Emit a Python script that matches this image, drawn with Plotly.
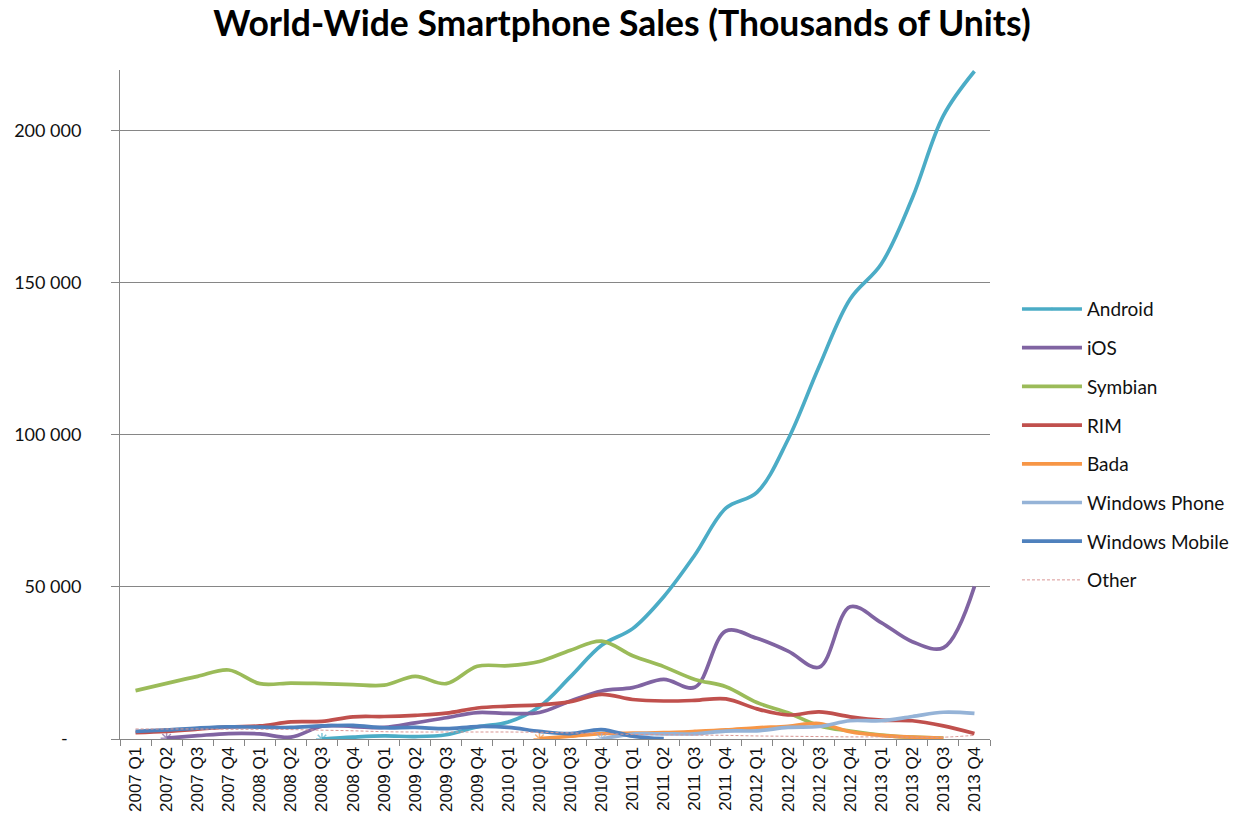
import plotly.graph_objects as go

quarters = ["2007 Q1", "2007 Q2", "2007 Q3", "2007 Q4",
            "2008 Q1", "2008 Q2", "2008 Q3", "2008 Q4",
            "2009 Q1", "2009 Q2", "2009 Q3", "2009 Q4",
            "2010 Q1", "2010 Q2", "2010 Q3", "2010 Q4",
            "2011 Q1", "2011 Q2", "2011 Q3", "2011 Q4",
            "2012 Q1", "2012 Q2", "2012 Q3", "2012 Q4",
            "2013 Q1", "2013 Q2", "2013 Q3", "2013 Q4"]

android = [None, None, None, None, None, None, 0, 600, 1000, 800, 1400, 4000,
           5600, 10600, 20500, 30800, 36300, 46800, 60500, 75900,
           81100, 98500, 122500, 144700, 156200, 177900, 205000, 219600]
ios = [None, 270, 1100, 1800, 1700, 600, 4200, 4100, 3800, 5300, 7000, 8700,
       8400, 8700, 12500, 15800, 16900, 19600, 17000, 35500,
       33100, 28900, 23600, 43500, 38300, 32000, 30000, 50200]
symbian = [15900, 18300, 20600, 22700, 18200, 18400, 18200, 17900, 17700, 20600, 18200, 23900,
           24100, 25500, 29200, 32200, 27400, 23800, 19600, 17200,
           12000, 8600, 4400, 2600, 1300, 600, 300, None]
rim = [2100, 2500, 3200, 4000, 4300, 5600, 5800, 7300, 7400, 7800, 8500, 10200,
       10800, 11200, 12300, 14700, 13000, 12500, 12700, 13200,
       9900, 7900, 8900, 7300, 6200, 6000, 4300, 1800]
bada = [None, None, None, None, None, None, None, None, None, None, None, None,
        None, 100, 900, 1800, 1900, 2100, 2500, 3000,
        3700, 4200, 5100, 2400, 1200, 600, 200, None]
windows_phone = [None, None, None, None, None, None, None, None, None, None, None, None,
                 None, None, None, 0, 1600, 1700, 1700, 2600,
                 2700, 3800, 4100, 6000, 6000, 7400, 8800, 8400]
windows_mobile = [2500, 3000, 3600, 4000, 3900, 3800, 4300, 4500, 3700, 3800, 3400, 4100,
                  3800, 2500, 1800, 3100, 900, 100, None, None,
                  None, None, None, None, None, None, None, None]
other = [3300, 3300, 3300, 3200, 3200, 3100, 2900, 2700, 2400, 2300, 2300, 2300,
         2300, 2200, 2000, 1800, 1500, 1400, 1300, 1200,
         1000, 900, 800, 700, 700, 600, 600, 1200]

series = [
    ("Android", android, "#4BACC6"),
    ("iOS", ios, "#8064A2"),
    ("Symbian", symbian, "#9BBB59"),
    ("RIM", rim, "#C0504D"),
    ("Bada", bada, "#F79646"),
    ("Windows Phone", windows_phone, "#95B3D7"),
    ("Windows Mobile", windows_mobile, "#4F81BD"),
]

y_ticks = [0, 50000, 100000, 150000, 200000]
y_ticktext = ["-\u00a0\u00a0\u00a0", "50 000", "100 000", "150 000", "200 000"]

fig = go.Figure()
for name, vals, color in series:
    first = next(i for i, v in enumerate(vals) if v is not None)
    sizes = [10 if (i == first and first > 0) else 0 for i in range(len(vals))]
    fig.add_trace(go.Scatter(
        x=quarters, y=vals, name=name, mode="lines+markers",
        line=dict(color=color, width=3.7, shape="spline", smoothing=1),
        marker=dict(symbol="asterisk-open", size=sizes, color=color,
                    line=dict(color=color, width=1.5)),
        legendgroup=name,
    ))
fig.add_trace(go.Scatter(
    x=quarters, y=other, name="Other", mode="lines",
    line=dict(color="#D99694", width=1, dash="3px,2px", shape="spline", smoothing=1),
    legendgroup="Other",
))

fig.update_layout(
    width=1234, height=829,
    paper_bgcolor="white", plot_bgcolor="white",
    margin=dict(l=120, r=244, t=70, b=90, autoexpand=False),
    title=dict(text="<b>World-Wide Smartphone Sales (Thousands of Units)</b>",
               x=0.504, xanchor="center", y=0.972, yanchor="middle",
               font=dict(family="Lato", size=35.5, color="black")),
    legend=dict(x=1.031, xanchor="left", y=0.44, yanchor="middle",
                font=dict(family="Lato", size=19, color="#111"),
                tracegroupgap=11, itemwidth=60, bgcolor="rgba(0,0,0,0)"),
    showlegend=True,
)
fig.update_xaxes(
    type="category", tickangle=-90, tickson="boundaries",
    ticks="outside", ticklen=6, tickcolor="#868686",
    showline=True, linecolor="#868686", linewidth=1, automargin=False,
    showgrid=False, tickfont=dict(family="Liberation Sans", size=17, color="#111"),
    range=[-0.5, 27.5],
)
fig.update_yaxes(
    range=[0, 220000], tickvals=y_ticks, ticktext=y_ticktext,
    ticks="outside", ticklen=8, tickcolor="#868686",
    showline=True, linecolor="#868686", linewidth=1, automargin=False,
    showgrid=True, gridcolor="#868686", gridwidth=1, zeroline=False,
    tickfont=dict(family="Lato", size=18, color="#111"),
    ticklabelstandoff=26,
)

fig.write_html(
    "out.html",
    config={"displayModeBar": False},
    post_script="document.body.style.margin='0';document.body.style.overflow='hidden';",
)
